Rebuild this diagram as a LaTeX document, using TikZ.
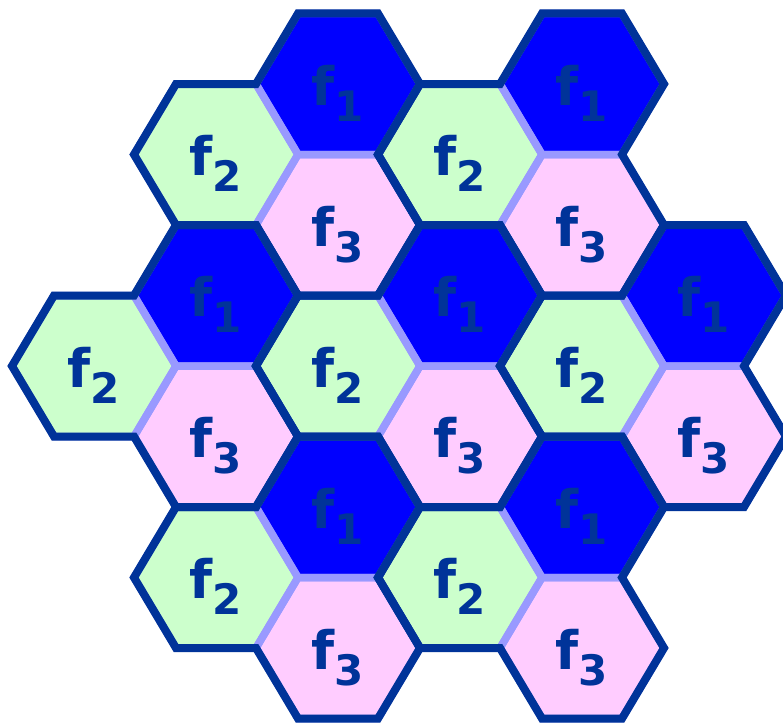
\documentclass[tikz,border=0pt]{standalone}
\usepackage{fontspec}
\newfontfamily\labfont{DejaVu Sans}
\definecolor{dk}{HTML}{003399}
\definecolor{lt}{HTML}{9999FF}
\definecolor{ca}{HTML}{0000FF}
\definecolor{cb}{HTML}{CCFFCC}
\definecolor{cc}{HTML}{FFCCFF}
\tikzset{
  celledge/.style={draw=lt, line width=7.5pt, line join=miter},
  clusteredge/.style={draw=dk, line width=8pt, line join=miter},
  lab/.style={font=\labfont\bfseries\fontsize{53}{53}\selectfont, text=dk, inner sep=0pt, anchor=base}
}
\newcommand\hexat[2]{({#1+82},{#2}) -- ({#1+40},{#2+70.5}) -- ({#1-40},{#2+70.5}) -- ({#1-82},{#2}) -- ({#1-40},{#2-70.5}) -- ({#1+40},{#2-70.5}) -- cycle}
\begin{document}
\begin{tikzpicture}[x=1pt,y=-1pt]
\useasboundingbox (0,0) rectangle (783,725);
\clip (0,0) rectangle (783,725);
% fills
\foreach \x/\y/\c in {
 338/84/ca, 582/84/ca, 216/295.5/ca, 460/295.5/ca, 704/295.5/ca, 338/507/ca, 582/507/ca,
 216/154.5/cb, 460/154.5/cb, 94/366/cb, 338/366/cb, 582/366/cb, 216/577.5/cb, 460/577.5/cb,
 338/225/cc, 582/225/cc, 216/436.5/cc, 460/436.5/cc, 704/436.5/cc, 338/648/cc, 582/648/cc}
{
  \fill[\c] \hexat{\x}{\y};
}
% light cell edges
\foreach \x/\y in {338/84, 582/84, 216/295.5, 460/295.5, 704/295.5, 338/507, 582/507,
 216/154.5, 460/154.5, 94/366, 338/366, 582/366, 216/577.5, 460/577.5,
 338/225, 582/225, 216/436.5, 460/436.5, 704/436.5, 338/648, 582/648}
{
  \draw[celledge] \hexat{\x}{\y};
}
% dark cluster outlines (one per f1 cell, with its f2 to the lower left and f3 below)
\foreach \x/\y in {338/84, 582/84, 216/295.5, 460/295.5, 704/295.5, 338/507, 582/507}
{
  \draw[clusteredge] ({\x-40},{\y-70.5}) -- ({\x+40},{\y-70.5}) -- ({\x+82},{\y}) -- ({\x+40},{\y+70.5})
    -- ({\x+82},{\y+141}) -- ({\x+40},{\y+211.5}) -- ({\x-40},{\y+211.5}) -- ({\x-82},{\y+141})
    -- ({\x-162},{\y+141}) -- ({\x-204},{\y+70.5}) -- ({\x-162},{\y}) -- ({\x-82},{\y}) -- cycle;
}
% labels
\foreach \x/\y/\n [count=\i] in {
 338/84/1, 582/84/1, 216/295.5/1, 460/295.5/1, 704/295.5/1, 338/507/1, 582/507/1,
 216/154.5/2, 460/154.5/2, 94/366/2, 338/366/2, 582/366/2, 216/577.5/2, 460/577.5/2,
 338/225/3, 582/225/3, 216/436.5/3, 460/436.5/3, 704/436.5/3, 338/648/3, 582/648/3}
{
  \node[lab] (L\i) at ({\x},{\y+21}) {f\raisebox{-16pt}{\fontsize{42}{42}\selectfont\n}};
}
\end{tikzpicture}
\end{document}
